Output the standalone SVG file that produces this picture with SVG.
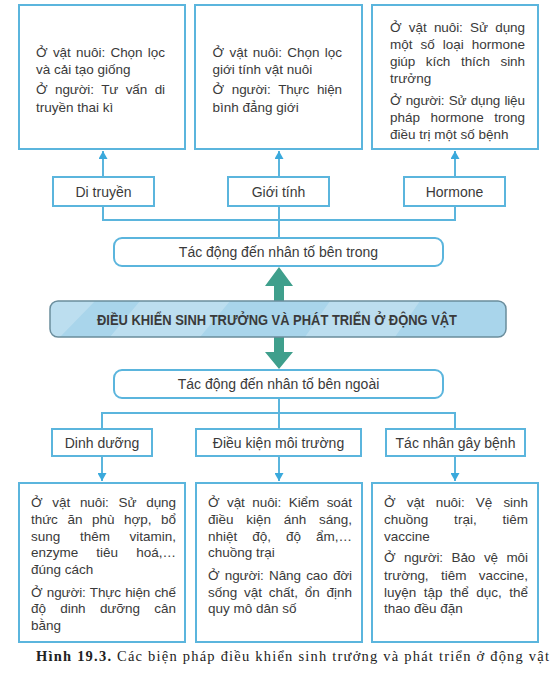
<svg xmlns="http://www.w3.org/2000/svg" width="558" height="675" viewBox="0 0 558 675">
<style>
.box{fill:#fff;stroke:#5bb5dd;stroke-width:2}
.rbox{fill:#fff;stroke:#5bb5dd;stroke-width:2}
.t{font-family:"Liberation Sans",Arial,sans-serif;font-size:13.5px;fill:#3a3a3a}
.lbl{font-family:"Liberation Sans",Arial,sans-serif;font-size:14px;fill:#3a3a3a;text-anchor:middle}
.con{fill:none;stroke:#5bb5dd;stroke-width:2}
.teal{fill:#3f9f8c}
</style>
<defs>
<marker id="ah" viewBox="0 0 8 9" refX="8" refY="4.5" markerWidth="8" markerHeight="9" markerUnits="userSpaceOnUse" orient="auto">
<path d="M0,0 L8,4.5 L0,9 z" fill="#3aa9dc"/>
</marker>
<clipPath id="barclip"><rect x="50" y="301" width="456" height="36" rx="8"/></clipPath>
</defs>
<rect width="558" height="675" fill="#fff"/>

<g id="connectors">
<path class="con" d="M103,206 V220 H455 V206"/>
<path class="con" d="M279,206 V238"/>
<path class="con" d="M103,177 V151" marker-end="url(#ah)"/>
<path class="con" d="M279,177 V151" marker-end="url(#ah)"/>
<path class="con" d="M455,177 V151" marker-end="url(#ah)"/>
<path class="con" d="M279,398 V429"/>
<path class="con" d="M102,429 V413 H455 V429"/>
<path class="con" d="M102,456 V481" marker-end="url(#ah)"/>
<path class="con" d="M279,456 V481" marker-end="url(#ah)"/>
<path class="con" d="M455,456 V481" marker-end="url(#ah)"/>
<polygon class="teal" points="279,267 293,286 284,286 284,301 274,301 274,286 265,286"/>
<polygon class="teal" points="274,337 284,337 284,352 293,352 279,369 265,352 274,352"/>
</g>

<g id="top-1">
<rect class="box" x="19" y="5" width="166" height="144"/>
<text class="t" x="36" y="57" textLength="129" lengthAdjust="spacing" style="word-spacing:1.7px">Ở vật nuôi: Chọn lọc</text>
<text class="t" x="36" y="74">và cải tạo giống</text>
<text class="t" x="36" y="94" textLength="129" lengthAdjust="spacing" style="word-spacing:4px">Ở người: Tư vấn di</text>
<text class="t" x="36" y="112">truyền thai kì</text>
</g>

<g id="top-2">
<rect class="box" x="195" y="5" width="167" height="144"/>
<text class="t" x="212.5" y="57" textLength="129.5" lengthAdjust="spacing" style="word-spacing:1.8px">Ở vật nuôi: Chọn lọc</text>
<text class="t" x="212.5" y="74">giới tính vật nuôi</text>
<text class="t" x="212.5" y="94" textLength="129.5" lengthAdjust="spacing" style="word-spacing:4.3px">Ở người: Thực hiện</text>
<text class="t" x="212.5" y="112">bình đẳng giới</text>
</g>

<g id="top-3">
<rect class="box" x="372" y="5" width="166" height="144"/>
<text class="t" x="390" y="32" textLength="135" lengthAdjust="spacing" style="word-spacing:3.7px">Ở vật nuôi: Sử dụng</text>
<text class="t" x="390" y="48.5" textLength="135" lengthAdjust="spacing" style="word-spacing:4.2px">một số loại hormone</text>
<text class="t" x="390" y="66" textLength="135" lengthAdjust="spacing" style="word-spacing:7px">giúp kích thích sinh</text>
<text class="t" x="390" y="83">trưởng</text>
<text class="t" x="390" y="105" textLength="135" lengthAdjust="spacing" style="word-spacing:0.6px">Ở người: Sử dụng liệu</text>
<text class="t" x="390" y="122" textLength="135" lengthAdjust="spacing" style="word-spacing:6.7px">pháp hormone trong</text>
<text class="t" x="390" y="138.5">điều trị một số bệnh</text>
</g>

<g id="di-truyen">
<rect class="box" x="53" y="177" width="101" height="29"/>
<text class="lbl" x="103.5" y="196.5">Di truyền</text>
</g>
<g id="gioi-tinh">
<rect class="box" x="228" y="177" width="101" height="29"/>
<text class="lbl" x="278.5" y="196.5">Giới tính</text>
</g>
<g id="hormone">
<rect class="box" x="404" y="177" width="101" height="29"/>
<text class="lbl" x="454.5" y="196.5">Hormone</text>
</g>

<g id="ben-trong">
<rect class="rbox" x="114" y="238" width="329" height="28" rx="8"/>
<text class="lbl" x="278.5" y="257">Tác động đến nhân tố bên trong</text>
</g>

<g id="main">
<rect x="50" y="301" width="456" height="36" rx="8" fill="#a9d5eb"/>
<g clip-path="url(#barclip)" fill="#ffffff" opacity="0.22">
<polygon points="50,301 95,301 60,337 50,337"/>
<polygon points="140,301 230,301 200,337 110,337"/>
<polygon points="330,301 420,301 395,337 305,337"/>
</g>
<rect x="50" y="301" width="456" height="36" rx="8" fill="none" stroke="#6a8d9c" stroke-width="1.5"/>
<text x="277" y="325" text-anchor="middle" textLength="360" lengthAdjust="spacingAndGlyphs" style="font-family:'Liberation Sans',Arial,sans-serif;font-size:14px;font-weight:bold;fill:#3a3a3a">ĐIỀU KHIỂN SINH TRƯỞNG VÀ PHÁT TRIỂN Ở ĐỘNG VẬT</text>
</g>

<g id="ben-ngoai">
<rect class="rbox" x="114" y="370" width="329" height="28" rx="8"/>
<text class="lbl" x="278.5" y="389">Tác động đến nhân tố bên ngoài</text>
</g>

<g id="dinh-duong">
<rect class="box" x="52" y="429" width="100" height="27"/>
<text class="lbl" x="102" y="447.5">Dinh dưỡng</text>
</g>
<g id="dieu-kien">
<rect class="box" x="196" y="429" width="165" height="27"/>
<text class="lbl" x="278.5" y="447.5">Điều kiện môi trường</text>
</g>
<g id="tac-nhan">
<rect class="box" x="386" y="429" width="139" height="27"/>
<text class="lbl" x="455.5" y="447.5">Tác nhân gây bệnh</text>
</g>

<g id="bottom-1">
<rect class="box" x="19" y="483" width="166" height="159"/>
<text class="t" x="31" y="507" textLength="145" lengthAdjust="spacing" style="word-spacing:6.2px">Ở vật nuôi: Sử dụng</text>
<text class="t" x="31" y="524" textLength="145" lengthAdjust="spacing" style="word-spacing:6px">thức ăn phù hợp, bổ</text>
<text class="t" x="31" y="541" textLength="145" lengthAdjust="spacing" style="word-spacing:15.9px">sung thêm vitamin,</text>
<text class="t" x="31" y="557" textLength="145" lengthAdjust="spacing" style="word-spacing:14.3px">enzyme tiêu hoá,…</text>
<text class="t" x="31" y="574">đúng cách</text>
<text class="t" x="31" y="597" textLength="145" lengthAdjust="spacing" style="word-spacing:0.7px">Ở người: Thực hiện chế</text>
<text class="t" x="31" y="613" textLength="145" lengthAdjust="spacing" style="word-spacing:10.7px">độ dinh dưỡng cân</text>
<text class="t" x="31" y="630">bằng</text>
</g>

<g id="bottom-2">
<rect class="box" x="196" y="483" width="166" height="159"/>
<text class="t" x="208" y="507" textLength="144" lengthAdjust="spacing" style="word-spacing:3.8px">Ở vật nuôi: Kiểm soát</text>
<text class="t" x="208" y="524" textLength="144" lengthAdjust="spacing" style="word-spacing:9px">điều kiện ánh sáng,</text>
<text class="t" x="208" y="541" textLength="144" lengthAdjust="spacing" style="word-spacing:11.3px">nhiệt độ, độ ẩm,…</text>
<text class="t" x="208" y="557">chuồng trại</text>
<text class="t" x="208" y="580" textLength="144" lengthAdjust="spacing" style="word-spacing:1.8px">Ở người: Nâng cao đời</text>
<text class="t" x="208" y="597" textLength="144" lengthAdjust="spacing" style="word-spacing:3px">sống vật chất, ổn định</text>
<text class="t" x="208" y="613">quy mô dân số</text>
</g>

<g id="bottom-3">
<rect class="box" x="372" y="483" width="166" height="159"/>
<text class="t" x="384" y="507" textLength="144" lengthAdjust="spacing" style="word-spacing:7.5px">Ở vật nuôi: Vệ sinh</text>
<text class="t" x="384" y="524" textLength="144" lengthAdjust="spacing" style="word-spacing:22px">chuồng trại, tiêm</text>
<text class="t" x="384" y="541">vaccine</text>
<text class="t" x="384" y="562" textLength="144" lengthAdjust="spacing" style="word-spacing:5px">Ở người: Bảo vệ môi</text>
<text class="t" x="384" y="580" textLength="144" lengthAdjust="spacing" style="word-spacing:8.8px">trường, tiêm vaccine,</text>
<text class="t" x="384" y="597" textLength="144" lengthAdjust="spacing" style="word-spacing:3.6px">luyện tập thể dục, thể</text>
<text class="t" x="384" y="613">thao đều đặn</text>
</g>

<g id="caption">
<text x="36" y="661" textLength="513" lengthAdjust="spacing" style="font-family:'Liberation Serif','Times New Roman',serif;font-size:14.5px;fill:#222"><tspan font-weight="bold">Hình 19.3.</tspan> Các biện pháp điều khiển sinh trưởng và phát triển ở động vật</text>
</g>
</svg>
